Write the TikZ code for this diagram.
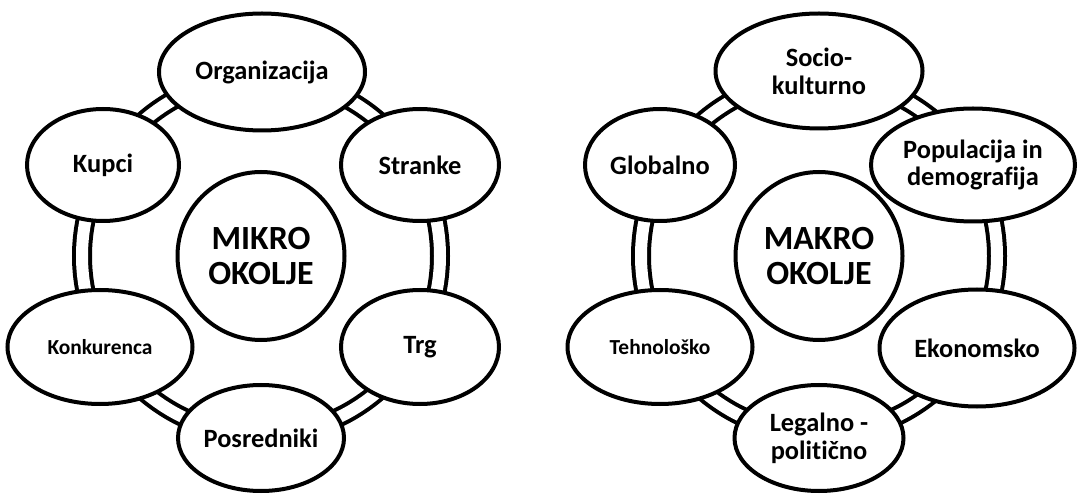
\documentclass[tikz,border=0pt]{standalone}
\usepackage{fontspec}
\setmainfont{Carlito}[Ligatures=CommonOff]
\usepackage{tikz}
\usetikzlibrary{calc,positioning,shapes.geometric}
\tikzset{%
	sat/.style    = {draw, ellipse, fill=white, line width=4bp, inner sep=0pt, align=center, font=\fontsize{26.5}{28}\selectfont\bfseries}, % outer factor
	satsmall/.style = {sat, font=\fontsize{21.5}{24}\selectfont\bfseries}, % smaller label
	core/.style   = {draw, ellipse, fill=white, line width=4bp, inner sep=0pt, align=center, minimum width=167bp, minimum height=168bp, font=\fontsize{34}{35}\selectfont\bfseries}, % centre
	ring/.style   = {draw, line width=4bp, double, double distance=12bp}, % double ring
}
\begin{document}
\begin{tikzpicture}[x=1bp, y=-1bp]
	\useasboundingbox (0,0) rectangle (1078,495);
	% mikro okolje
	\node[core] (mikro) at (261,256) {MIKRO\\OKOLJE};
	\draw[ring] (mikro.center) circle[radius=179];
	\node[sat, minimum width=206bp, minimum height=117bp] (org) at (262,72) {Organizacija};
	\node[sat, minimum width=152bp, minimum height=112bp] (kupci) at (103,165) {Kupci};
	\node[sat, minimum width=158bp, minimum height=112bp] (stranke) at (420,165) {Stranke};
	\node[satsmall, minimum width=185bp, minimum height=114bp] (konk) at (100,347) {Konkurenca};
	\node[sat, minimum width=158bp, minimum height=114bp] (trg) at (420,347) {Trg};
	\node[sat, minimum width=166bp, minimum height=106bp] (posr) at (261,438) {Posredniki};
	
	% makro okolje
	\node[core] (makro) at (819,256) {MAKRO\\OKOLJE};
	\draw[ring] (makro.center) circle[radius=178];
	\node[sat, minimum width=207bp, minimum height=115bp] (socio) at (819,71) {Socio-\\kulturno};
	\node[sat, minimum width=150bp, minimum height=112bp] (glob) at (660,165) {Globalno};
	\node[sat, minimum width=204bp, minimum height=113bp] (pop) at (973,165) {Populacija in\\demografija};
	\node[satsmall, minimum width=185bp, minimum height=114bp] (teh) at (660,347) {Tehnološko};
	\node[sat, minimum width=195bp, minimum height=117bp] (eko) at (977,348) {Ekonomsko};
	\node[sat, minimum width=169bp, minimum height=106bp] (leg) at (819,438) {Legalno -\\politično};
\end{tikzpicture}
\end{document}
